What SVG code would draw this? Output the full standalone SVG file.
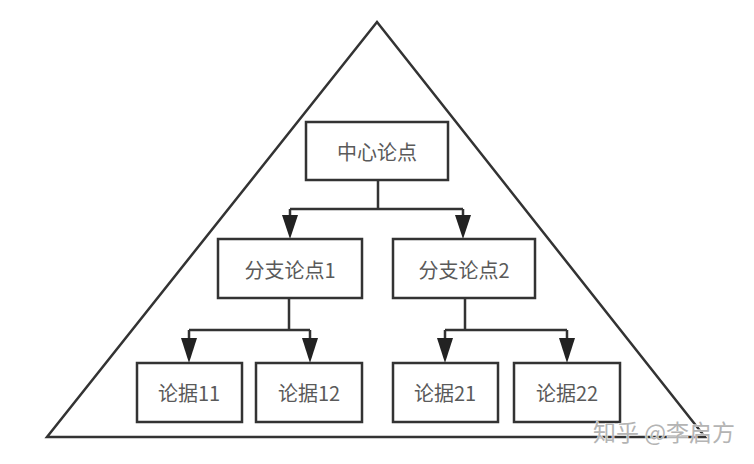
<svg xmlns="http://www.w3.org/2000/svg" width="754" height="464" viewBox="0 0 754 464">
<defs>
<style>
.box{fill:#fff;stroke:#333;stroke-width:2.5}
.lbl{font-family:"Noto Sans CJK SC","Noto Sans",sans-serif;font-size:20px;fill:#5a5a5a;text-anchor:middle;dominant-baseline:central}
.ln{fill:none;stroke:#333;stroke-width:2.5}
.ah{fill:#222}
.wm{font-family:"Noto Sans CJK SC","Noto Sans",sans-serif;font-size:23px;fill:#b4b4b4;stroke:#fff;stroke-width:0.8;paint-order:stroke}
</style>
</defs>
<rect width="754" height="464" fill="#fff"/>
<polygon points="377,22 47,437 705,437" fill="none" stroke="#333" stroke-width="2.5" stroke-linejoin="miter"/>
<g id="connectors">
<path class="ln" d="M378,180 V209 M290,209 H463 M290,209 V222 M463,209 V222"/>
<polygon class="ah" points="282,215 298,215 290,239"/>
<polygon class="ah" points="455,215 471,215 463,239"/>
<path class="ln" d="M289,298 V330 M189,330 H310 M189,330 V342 M310,330 V342"/>
<polygon class="ah" points="181,338 197,338 189,363"/>
<polygon class="ah" points="302,338 318,338 310,363"/>
<path class="ln" d="M465,298 V330 M445,330 H567 M445,330 V342 M567,330 V342"/>
<polygon class="ah" points="437,338 453,338 445,363"/>
<polygon class="ah" points="559,338 575,338 567,363"/>
</g>
<g id="center"><rect class="box" x="306" y="122" width="142" height="58"/><text class="lbl" x="377" y="151">中心论点</text></g>
<g id="branch1"><rect class="box" x="218" y="239" width="144" height="59"/><text class="lbl" x="290" y="269">分支论点1</text></g>
<g id="branch2"><rect class="box" x="393" y="239" width="142" height="59"/><text class="lbl" x="464" y="269">分支论点2</text></g>
<g id="leaf11"><rect class="box" x="137" y="363" width="105" height="59"/><text class="lbl" x="189" y="392">论据11</text></g>
<g id="leaf12"><rect class="box" x="256" y="363" width="106" height="59"/><text class="lbl" x="309" y="392">论据12</text></g>
<g id="leaf21"><rect class="box" x="393" y="363" width="105" height="59"/><text class="lbl" x="445" y="392">论据21</text></g>
<g id="leaf22"><rect class="box" x="514" y="363" width="106" height="59"/><text class="lbl" x="567" y="392">论据22</text></g>
<text class="wm" x="593" y="441">知乎 @李启方</text>
</svg>
